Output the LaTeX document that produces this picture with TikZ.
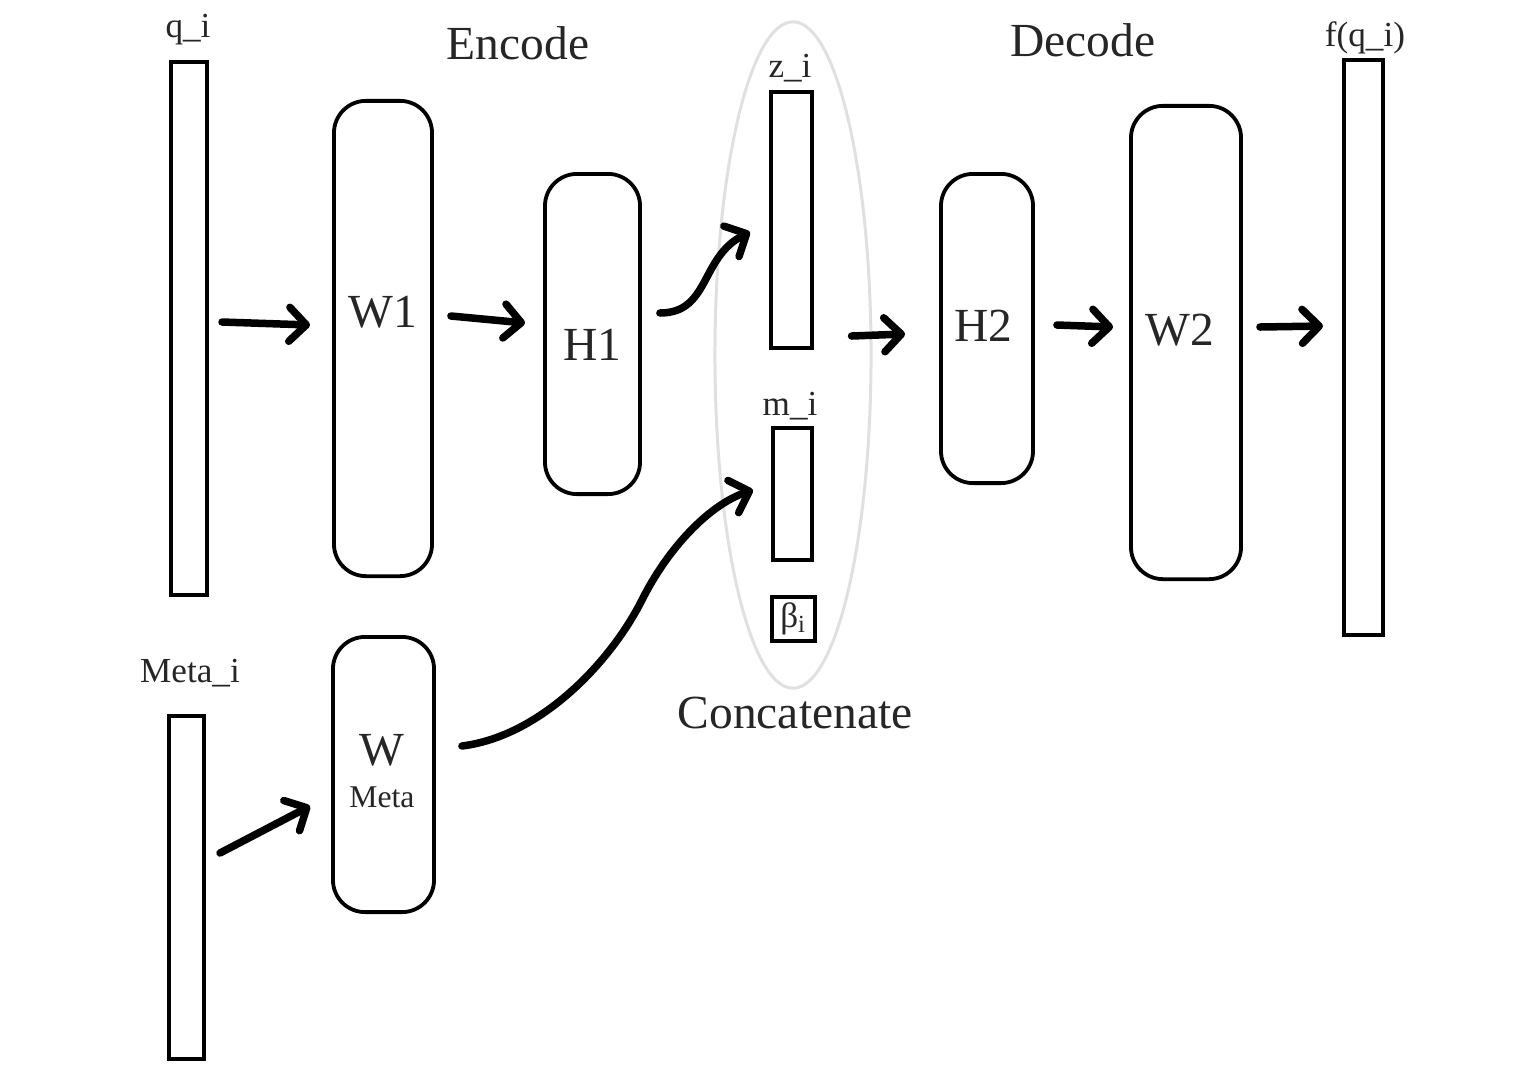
\documentclass[tikz,border=0pt]{standalone}
\usepackage{fontspec}
\setmainfont{Liberation Serif}
\usetikzlibrary{arrows.meta,shapes.geometric}
\begin{document}
\begin{tikzpicture}[x=0.01cm, y=-0.01cm,
    bar/.style={draw, line width=0.04cm, inner sep=0pt},
    block/.style={draw, line width=0.038cm, rounded corners=0.32cm, inner sep=0pt},
    arr/.style={line width=0.075cm, line cap=round, line join=round,
      -{Straight Barb[length=0.17cm, width=0.34cm, round]}},
    big/.style={font=\fontsize{13.5}{16}\selectfont, text=black!85},
    small/.style={font=\fontsize{10}{12}\selectfont, text=black!85},
    tiny/.style={font=\fontsize{9}{11}\selectfont, text=black!85}]
    \useasboundingbox (0,0) rectangle (1516,1078);
    \node[draw=black!12, line width=0.03cm, ellipse, minimum width=1.56cm,
      minimum height=6.66cm] (cat) at (793,355) {};
    \node[bar, minimum width=0.36cm, minimum height=5.33cm] (qi) at (189,328.5) {};
    \node[block, minimum width=0.98cm, minimum height=4.75cm] (W1) at (383,338.5) {};
    \node[block, minimum width=0.95cm, minimum height=3.2cm] (H1) at (592.5,334) {};
    \node[bar, minimum width=0.41cm, minimum height=2.56cm] (zi) at (791.5,220) {};
    \node[bar, minimum width=0.39cm, minimum height=1.32cm] (mi) at (792.5,494) {};
    \node[bar, small, minimum width=0.43cm, minimum height=0.44cm] (beta) at (793.5,619) {β\textsubscript{i}};
    \node[block, minimum width=0.92cm, minimum height=3.09cm] (H2) at (987,328.5) {};
    \node[block, minimum width=1.1cm, minimum height=4.73cm] (W2) at (1186,342.5) {};
    \node[bar, minimum width=0.39cm, minimum height=5.75cm] (fq) at (1363.5,347.5) {};
    \node[bar, minimum width=0.35cm, minimum height=3.43cm] (metai) at (186.5,887.5) {};
    \node[block, minimum width=1.01cm, minimum height=2.75cm] (Wm) at (383.5,774.5) {};

    \node[big] (enc) at (518,43) {Encode};
    \node[big] (dec) at (1083,40) {Decode};
    \node[big] (cattxt) at (795,713) {Concatenate};
    \node[small] (qit) at (188,30) {q\_i};
    \node[small] (zit) at (790,68) {z\_i};
    \node[small] (mit) at (790,406) {m\_i};
    \node[small] (fqt) at (1365,38) {f(q\_i)};
    \node[small] (metait) at (190,673) {Meta\_i};
    \node[big] (W1t) at ([shift={(0,-26.5)}]W1.center) {W1};
    \node[big] (H1t) at ([shift={(0,11)}]H1.center) {H1};
    \node[big] (H2t) at ([shift={(-4,-2.5)}]H2.center) {H2};
    \node[big] (W2t) at ([shift={(-6,-12.5)}]W2.center) {W2};
    \node[big] (Wmt) at ([shift={(-1.5,-24.5)}]Wm.center) {W};
    \node[tiny] (Wmt2) at ([shift={(-1.5,22.5)}]Wm.center) {Meta};

    \draw[arr] ([shift={(13,-6.5)}]qi.east) -- ([shift={(-22,-13.5)}]W1.west);
    \draw[arr] ([shift={(17,-22.5)}]W1.east) -- ([shift={(-18,-11)}]H1.west);
    \draw[arr] ([shift={(18,-21)}]H1.east) .. controls +(50,0) and +(-50,25) .. ([shift={(-19,12)}]zi.west);
    \draw[arr] ([shift={(-21,-19)}]cat.east) -- ([shift={(-34,5.5)}]H2.west);
    \draw[arr] ([shift={(22,-3.5)}]H2.east) -- ([shift={(-16,-15.5)}]W2.west);
    \draw[arr] ([shift={(17,-15.5)}]W2.east) -- ([shift={(-19,-21.5)}]fq.west);
    \draw[arr] ([shift={(14,-34.5)}]metai.east) -- ([shift={(-21,31.5)}]Wm.west);
    \draw[arr] ([shift={(26,-28.5)}]Wm.east) .. controls +(80,-10) and +(-30,60) .. ++(180,-146)
      .. controls +(25,-50) and +(-45,15) .. ([shift={(-18,-4)}]mi.west);
\end{tikzpicture}
\end{document}
